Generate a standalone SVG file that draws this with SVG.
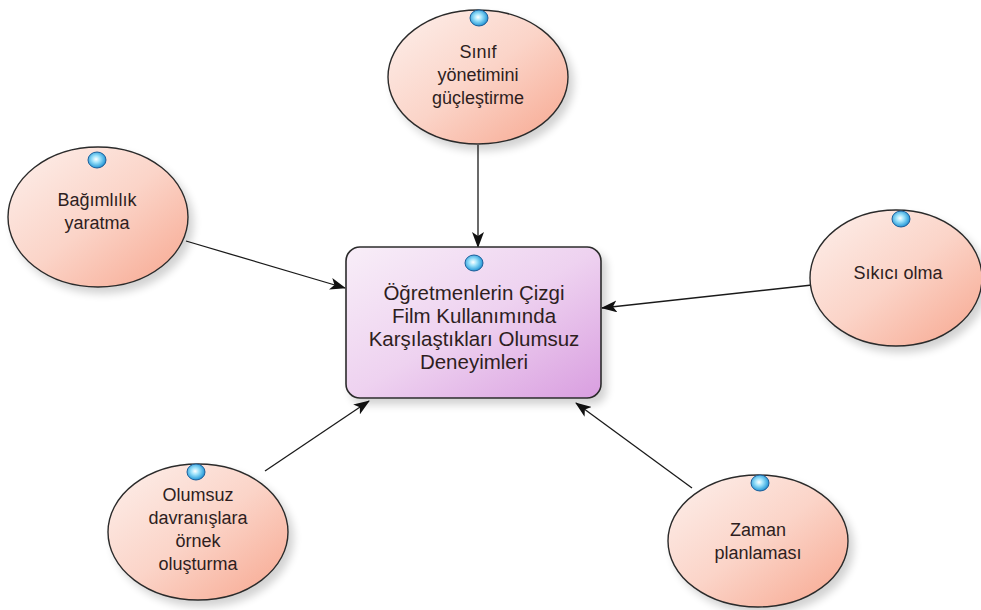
<svg xmlns="http://www.w3.org/2000/svg" width="981" height="610" viewBox="0 0 981 610">
<defs>
<linearGradient id="gEll" x1="0" y1="0" x2="1" y2="1">
<stop offset="0" stop-color="#fdf0ec"/>
<stop offset="0.5" stop-color="#fbd4c8"/>
<stop offset="1" stop-color="#f7a68e"/>
</linearGradient>
<linearGradient id="gRect" x1="0" y1="0" x2="1" y2="1">
<stop offset="0" stop-color="#f8eef8"/>
<stop offset="0.5" stop-color="#eed2f0"/>
<stop offset="1" stop-color="#d99ee0"/>
</linearGradient>
<radialGradient id="gIcon" cx="0.45" cy="0.45" r="0.6">
<stop offset="0" stop-color="#ffffff"/>
<stop offset="0.35" stop-color="#9fe3fb"/>
<stop offset="0.8" stop-color="#3aa6de"/>
<stop offset="1" stop-color="#1d6fb0"/>
</radialGradient>
<filter id="sh" x="-20%" y="-20%" width="150%" height="150%">
<feGaussianBlur in="SourceAlpha" stdDeviation="4"/>
<feOffset dx="5" dy="6" result="b"/>
<feComponentTransfer><feFuncA type="linear" slope="0.18"/></feComponentTransfer>
<feMerge><feMergeNode/><feMergeNode in="SourceGraphic"/></feMerge>
</filter>
<marker id="arr" viewBox="0 0 16 12" refX="15" refY="6" markerWidth="16" markerHeight="12" markerUnits="userSpaceOnUse" orient="auto">
<path d="M0,0 L16,6 L0,12 L4,6 z" fill="#111"/>
</marker>
</defs>
<style>
.ell{fill:url(#gEll);stroke:#2b2b2b;stroke-width:1.4;filter:url(#sh)}
.rect{fill:url(#gRect);stroke:#2b2b2b;stroke-width:1.6;filter:url(#sh)}
.icon{fill:url(#gIcon);stroke:#1e5f9a;stroke-width:1}
.t{font-family:"Liberation Sans",Arial,sans-serif;font-size:18px;fill:#2e1e1e;text-anchor:middle}
.tc{font-family:"Liberation Sans",Arial,sans-serif;font-size:20.5px;fill:#2e1e1e;text-anchor:middle}
.c{stroke:#1a1a1a;stroke-width:1.3;fill:none;marker-end:url(#arr)}
</style>
<g id="connectors">
<line class="c" x1="478" y1="145" x2="478" y2="247"/>
<line class="c" x1="186" y1="241" x2="345" y2="288"/>
<line class="c" x1="812" y1="285" x2="602" y2="308"/>
<line class="c" x1="265" y1="471" x2="369" y2="401"/>
<line class="c" x1="692" y1="488" x2="576" y2="403"/>
</g>
<g id="center">
<rect class="rect" x="346" y="247" width="255" height="151" rx="14" ry="14"/>
<ellipse class="icon" cx="474" cy="263" rx="9" ry="8"/>
<text class="tc" x="474" y="300">Öğretmenlerin Çizgi</text>
<text class="tc" x="474" y="323">Film Kullanımında</text>
<text class="tc" x="474" y="346">Karşılaştıkları Olumsuz</text>
<text class="tc" x="474" y="369">Deneyimleri</text>
</g>
<g id="sinif">
<ellipse class="ell" cx="478" cy="77" rx="90" ry="67"/>
<ellipse class="icon" cx="479" cy="18" rx="9" ry="8"/>
<text class="t" x="478" y="58">Sınıf</text>
<text class="t" x="478" y="81">yönetimini</text>
<text class="t" x="478" y="104">güçleştirme</text>
</g>
<g id="bagimlilik">
<ellipse class="ell" cx="98" cy="217" rx="90" ry="70"/>
<ellipse class="icon" cx="97" cy="160" rx="9" ry="8"/>
<text class="t" x="97" y="206">Bağımlılık</text>
<text class="t" x="97" y="229">yaratma</text>
</g>
<g id="sikici">
<ellipse class="ell" cx="896" cy="278" rx="86" ry="68"/>
<ellipse class="icon" cx="901" cy="219" rx="9" ry="8"/>
<text class="t" x="898" y="279">Sıkıcı olma</text>
</g>
<g id="olumsuz">
<ellipse class="ell" cx="198" cy="532" rx="90" ry="68"/>
<ellipse class="icon" cx="196" cy="472" rx="9" ry="8"/>
<text class="t" x="198" y="501">Olumsuz</text>
<text class="t" x="198" y="524">davranışlara</text>
<text class="t" x="198" y="547">örnek</text>
<text class="t" x="198" y="570">oluşturma</text>
</g>
<g id="zaman">
<ellipse class="ell" cx="758" cy="541" rx="90" ry="66"/>
<ellipse class="icon" cx="760" cy="483" rx="9" ry="8"/>
<text class="t" x="758" y="536">Zaman</text>
<text class="t" x="758" y="559">planlaması</text>
</g>
</svg>
